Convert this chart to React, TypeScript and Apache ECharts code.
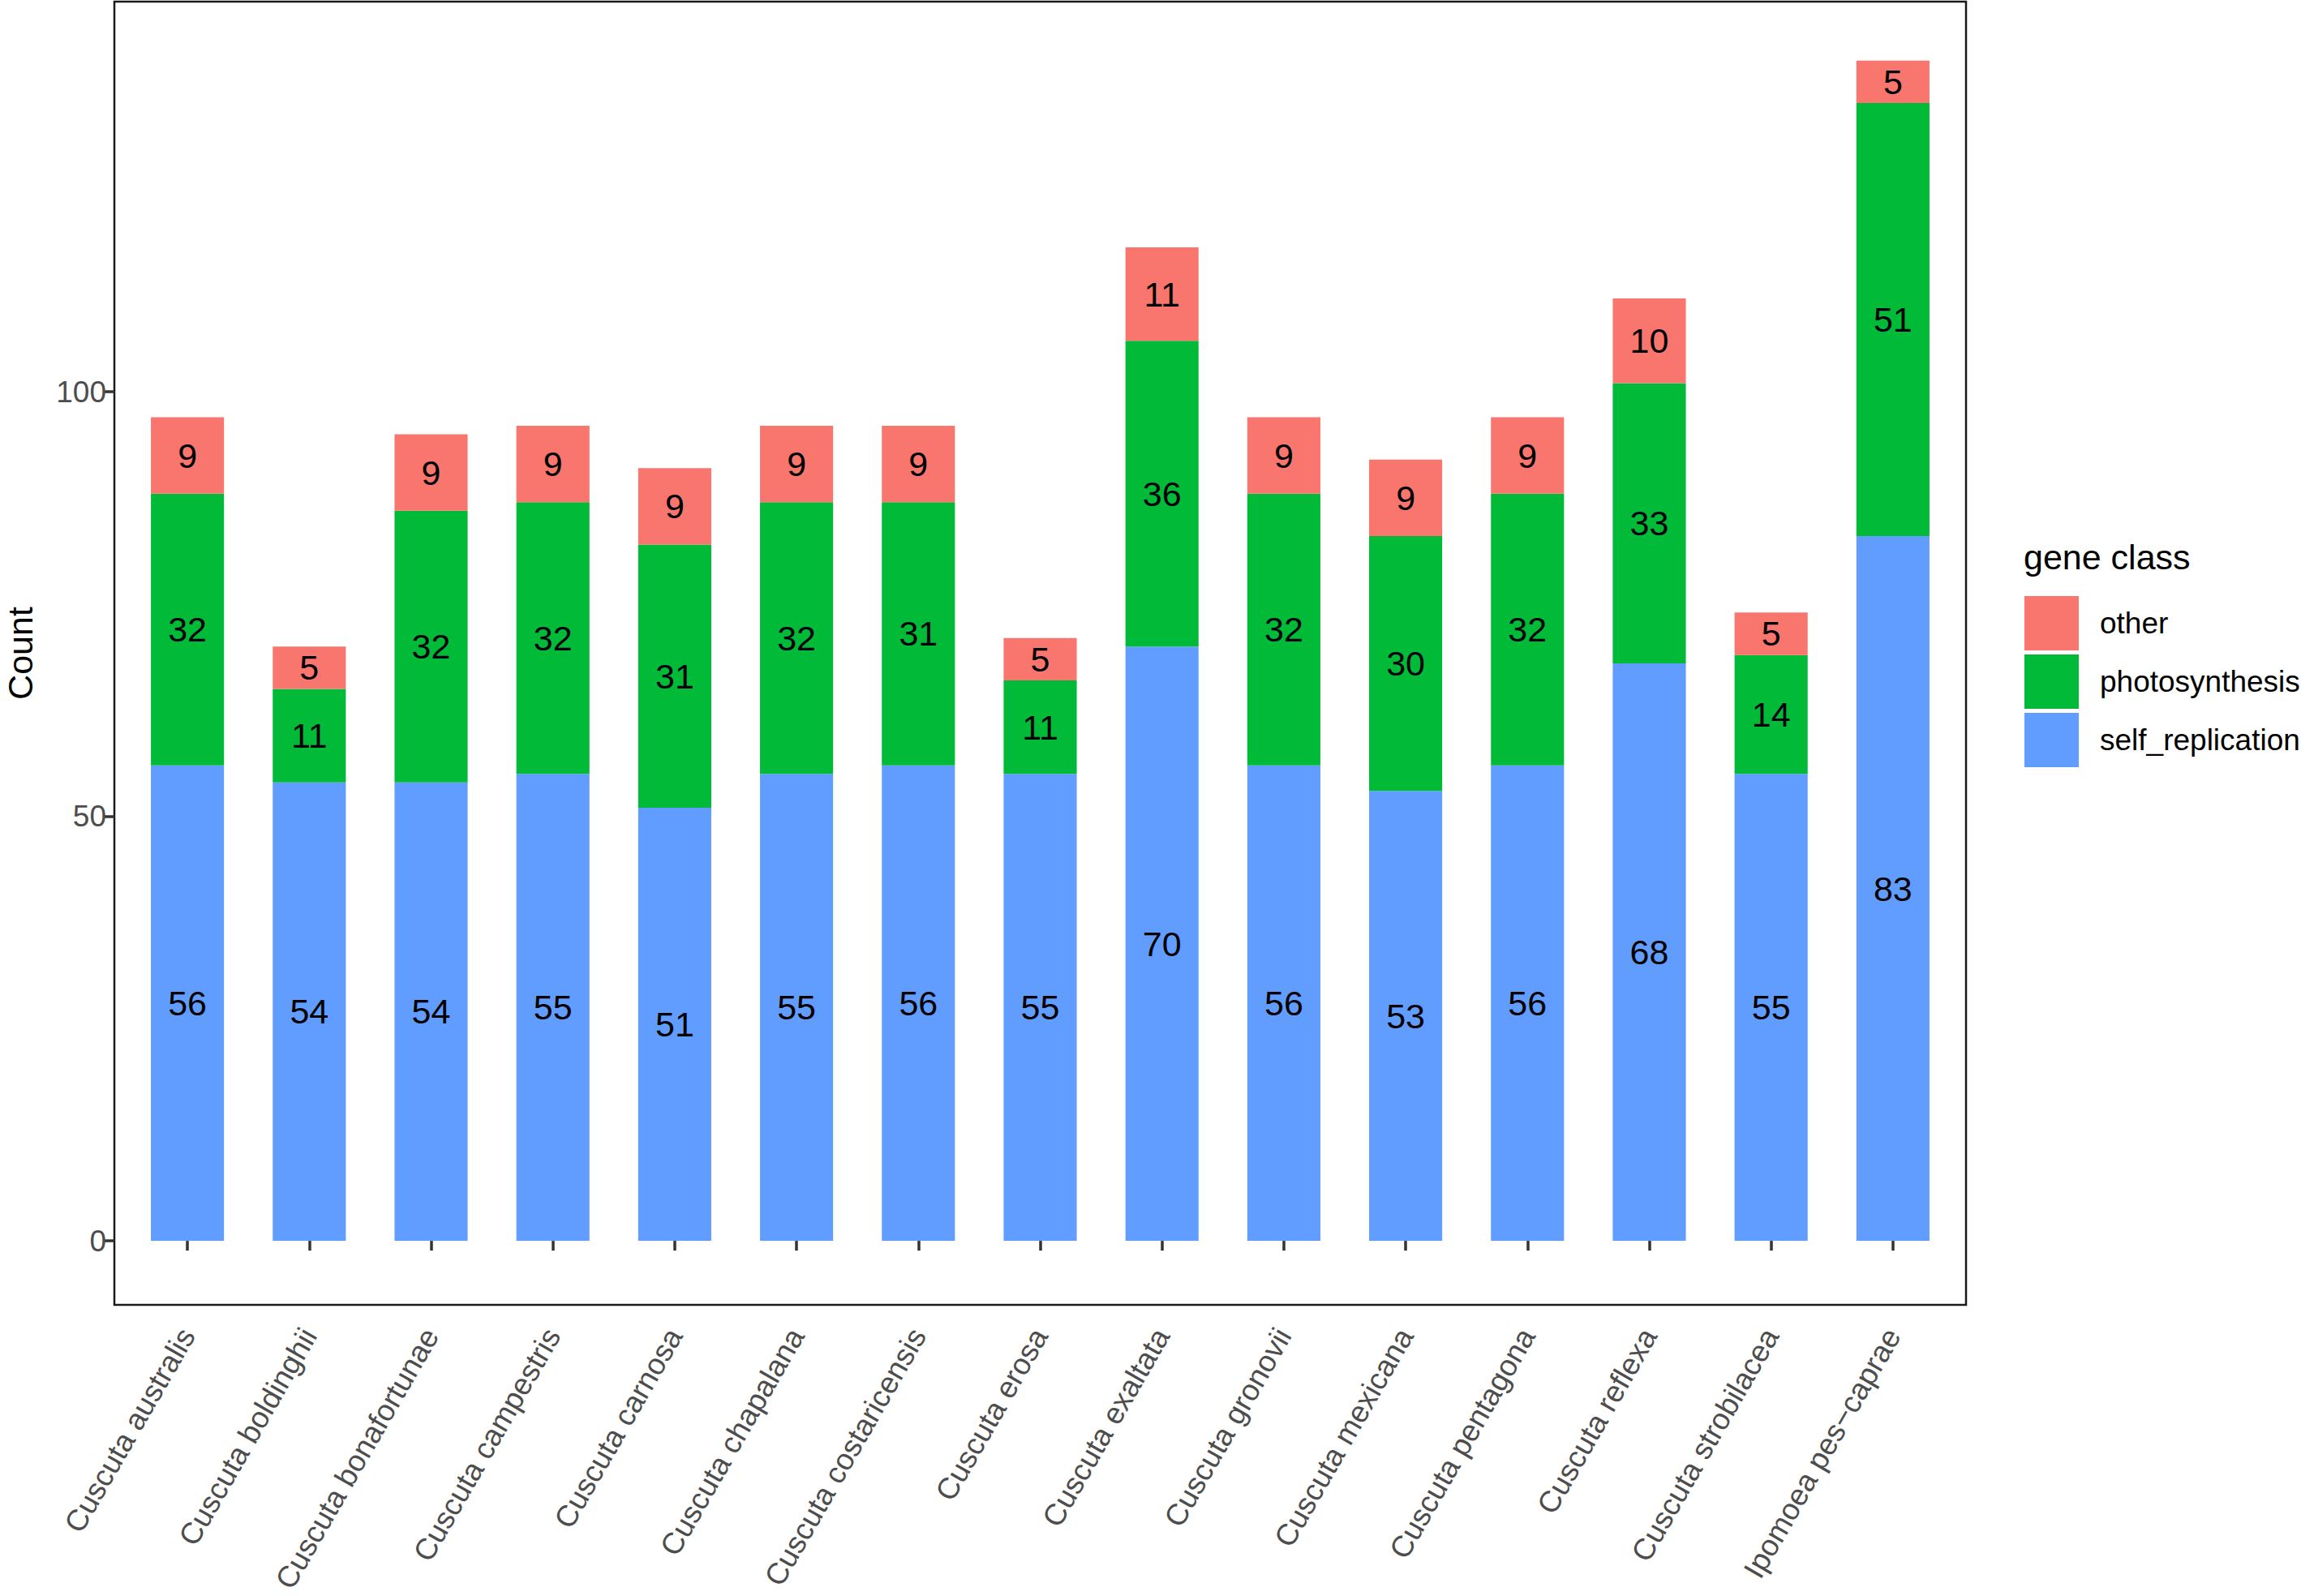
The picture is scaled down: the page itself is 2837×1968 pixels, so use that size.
import React, { useEffect, useRef } from "react";
import * as echarts from "echarts";

const categories = [
  "Cuscuta australis",
  "Cuscuta boldinghii",
  "Cuscuta bonafortunae",
  "Cuscuta campestris",
  "Cuscuta carnosa",
  "Cuscuta chapalana",
  "Cuscuta costaricensis",
  "Cuscuta erosa",
  "Cuscuta exaltata",
  "Cuscuta gronovii",
  "Cuscuta mexicana",
  "Cuscuta pentagona",
  "Cuscuta reflexa",
  "Cuscuta strobilacea",
  "Ipomoea pes\u2212caprae",
];
const selfReplication = [56, 54, 54, 55, 51, 55, 56, 55, 70, 56, 53, 56, 68, 55, 83];
const photosynthesis = [32, 11, 32, 32, 31, 32, 31, 11, 36, 32, 30, 32, 33, 14, 51];
const other = [9, 5, 9, 9, 9, 9, 9, 5, 11, 9, 9, 9, 10, 5, 5];
const yTicks = [0, 50, 100];
const legendOrder = ["other", "photosynthesis", "self_replication"];

const W = 2837;
const H = 1968;
const FONT = "'Liberation Sans', Arial, Helvetica, sans-serif";
const PANEL = { left: 141, top: 2, right: 2424, bottom: 1609 };
const COLORS: Record<string, string> = {
  other: "#F8766D",
  photosynthesis: "#00BA38",
  self_replication: "#619CFF",
};

export default function App() {
  const ref = useRef<HTMLDivElement>(null);
  useEffect(() => {
    const chart = echarts.init(ref.current!, null, { renderer: "svg" });
    const n = categories.length;
    const panelW = PANEL.right - PANEL.left;
    const panelH = PANEL.bottom - PANEL.top;
    // ggplot discrete scale: 0.6 units of padding on each side of positions 1..n
    const unit = panelW / (n - 1 + 1.2);
    const pad = 0.1 * unit; // extra beyond the half band ECharts already leaves
    const totals = categories.map((_, i) => selfReplication[i] + photosynthesis[i] + other[i]);
    const maxTotal = Math.max(...totals);
    const yMin = -0.05 * maxTotal;
    const yMax = maxTotal * 1.05;

    const mk = (name: string, values: number[]) => ({
      type: "bar",
      name,
      stack: "total",
      barWidth: "60%",
      xAxisIndex: 0,
      yAxisIndex: 0,
      data: values,
      itemStyle: { color: COLORS[name] },
      label: {
        show: true,
        position: "inside",
        color: "#000000",
        fontSize: 43,
        fontFamily: FONT,
      },
    });

    chart.setOption({
      animation: false,
      backgroundColor: "#ffffff",
      grid: [
        {
          left: PANEL.left + pad,
          top: PANEL.top,
          width: panelW - 2 * pad,
          height: panelH,
          show: false,
          containLabel: false,
        },
        {
          left: PANEL.left,
          top: PANEL.top,
          width: panelW,
          height: panelH,
          show: true,
          borderColor: "#1a1a1a",
          borderWidth: 2.5,
          backgroundColor: "transparent",
          containLabel: false,
        },
      ],
      xAxis: [
        {
          type: "category",
          gridIndex: 0,
          data: categories,
          boundaryGap: true,
          axisLine: { show: false },
          splitLine: { show: false },
          axisTick: {
            show: true,
            alignWithLabel: true,
            length: 12,
            lineStyle: { color: "#333333", width: 3.5 },
          },
          axisLabel: {
            interval: 0,
            rotate: 60,
            margin: 38,
            fontSize: 37,
            color: "#4D4D4D",
            fontFamily: FONT,
          },
        },
        { type: "value", gridIndex: 1, show: false, min: 0, max: 1 },
      ],
      yAxis: [
        {
          type: "value",
          gridIndex: 0,
          min: yMin,
          max: yMax,
          offset: pad,
          axisLine: { show: false },
          splitLine: { show: false },
          axisTick: {
            show: true,
            customValues: yTicks,
            length: 12,
            lineStyle: { color: "#333333", width: 3.5 },
          },
          axisLabel: {
            customValues: yTicks,
            margin: 10,
            fontSize: 37,
            color: "#4D4D4D",
            fontFamily: FONT,
          },
        },
        { type: "value", gridIndex: 1, show: false, min: 0, max: 1 },
      ],
      legend: {
        data: legendOrder,
        orient: "vertical",
        left: 2496,
        top: 735,
        itemWidth: 67,
        itemHeight: 67,
        itemGap: 5,
        icon: "rect",
        padding: 0,
        selectedMode: false,
        itemStyle: { borderWidth: 0 },
        textStyle: {
          fontSize: 37,
          color: "#000000",
          fontFamily: FONT,
          padding: [0, 0, 0, 21],
        },
      },
      graphic: [
        {
          type: "text",
          left: 2495,
          top: 665,
          style: {
            text: "gene class",
            font: `43px ${FONT}`,
            fill: "#000000",
          },
        },
        {
          type: "text",
          x: 25,
          y: (PANEL.top + PANEL.bottom) / 2,
          rotation: Math.PI / 2,
          style: {
            text: "Count",
            font: `43px ${FONT}`,
            fill: "#000000",
            align: "center",
            verticalAlign: "middle",
          },
        },
      ],
      series: [
        mk("self_replication", selfReplication),
        mk("photosynthesis", photosynthesis),
        mk("other", other),
      ],
    });
    return () => chart.dispose();
  }, []);
  return (
    <div
      ref={ref}
      style={{ position: "absolute", left: 0, top: 0, width: W, height: H }}
    />
  );
}
